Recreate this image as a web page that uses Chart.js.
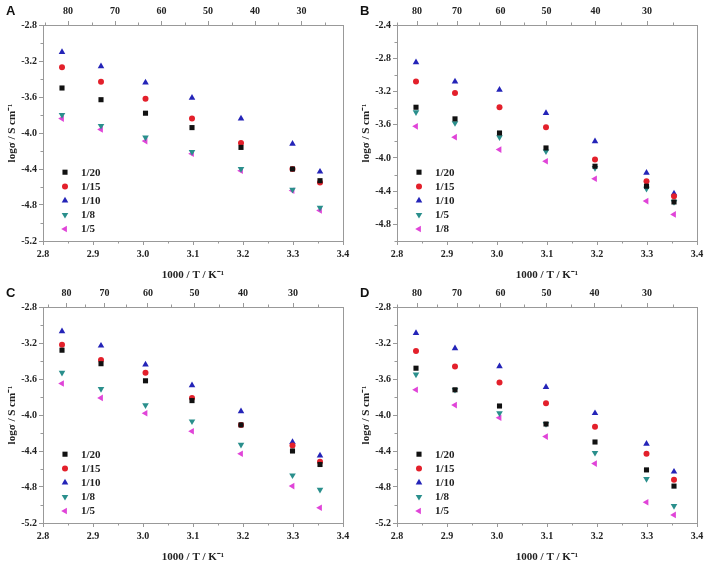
<!DOCTYPE html>
<html>
<head>
<meta charset="utf-8">
<script src="https://cdn.jsdelivr.net/npm/chart.js@4.4.1/dist/chart.umd.min.js"></script>
<style>
  html, body { margin: 0; padding: 0; background: #fff; }
  #wrap { position: relative; width: 708px; height: 564px; }
  .panel { position: absolute; width: 354px; height: 282px; }
  .panel canvas { position: absolute; left: 0; top: 0; }
  .tag { position: absolute; left: 6px; top: 3px; font: bold 13px 'Liberation Sans', Arial, sans-serif; color: #111; }
</style>
</head>
<body>
<div id="wrap">
  <div class="panel" style="left:0;top:0"><canvas id="cA" width="354" height="282"></canvas><div class="tag">A</div></div>
  <div class="panel" style="left:354px;top:0"><canvas id="cB" width="354" height="282"></canvas><div class="tag">B</div></div>
  <div class="panel" style="left:0;top:282px"><canvas id="cC" width="354" height="282"></canvas><div class="tag">C</div></div>
  <div class="panel" style="left:354px;top:282px"><canvas id="cD" width="354" height="282"></canvas><div class="tag">D</div></div>
</div>
<script>
// ── Data ──
const invT = [2.838, 2.916, 3.005, 3.098, 3.196, 3.299, 3.354];
const xTicks = [2.8, 2.9, 3.0, 3.1, 3.2, 3.3, 3.4];
const tempLabels = [80, 70, 60, 50, 40, 30];

const topPosA = [2.85, 2.944, 3.037, 3.13, 3.224, 3.317];
const topPosB = [2.84, 2.92, 3.007, 3.099, 3.197, 3.3];
const topPosC = [2.847, 2.923, 3.01, 3.103, 3.2, 3.3];
const topPosD = [2.84, 2.92, 3.007, 3.099, 3.195, 3.3];

const yTicksLow = [-5.2, -4.8, -4.4, -4.0, -3.6, -3.2, -2.8];
const yTicksHigh = [-4.8, -4.4, -4.0, -3.6, -3.2, -2.8, -2.4];

const legendStd = ['1/20', '1/15', '1/10', '1/8', '1/5'];
const legendB = ['1/20', '1/15', '1/10', '1/5', '1/8'];

// panel A
const a20 = [-3.50, -3.63, -3.78, -3.94, -4.16, -4.40, -4.53];
const a15 = [-3.27, -3.43, -3.62, -3.84, -4.11, -4.40, -4.55];
const a10 = [-3.10, -3.26, -3.44, -3.61, -3.84, -4.12, -4.43];
const a8  = [-3.80, -3.92, -4.05, -4.21, -4.40, -4.63, -4.83];
const a5  = [-3.84, -3.96, -4.09, -4.23, -4.42, -4.64, -4.86];
// panel B
const b20 = [-3.39, -3.53, -3.70, -3.88, -4.10, -4.34, -4.53];
const b15 = [-3.08, -3.22, -3.39, -3.63, -4.02, -4.28, -4.46];
const b10 = [-2.85, -3.08, -3.18, -3.46, -3.80, -4.18, -4.43];
const b5  = [-3.45, -3.58, -3.75, -3.92, -4.12, -4.37, -4.53];
const b8  = [-3.62, -3.75, -3.90, -4.04, -4.25, -4.52, -4.68];
// panel C
const c20 = [-3.28, -3.43, -3.62, -3.84, -4.11, -4.40, -4.55];
const c15 = [-3.22, -3.39, -3.53, -3.81, -4.11, -4.34, -4.52];
const c10 = [-3.07, -3.23, -3.44, -3.67, -3.96, -4.30, -4.45];
const c8  = [-3.53, -3.71, -3.89, -4.07, -4.33, -4.67, -4.83];
const c5  = [-3.65, -3.81, -3.98, -4.18, -4.43, -4.79, -5.03];
// panel D
const d20 = [-3.48, -3.72, -3.90, -4.10, -4.30, -4.61, -4.79];
const d15 = [-3.29, -3.46, -3.64, -3.87, -4.13, -4.43, -4.72];
const d10 = [-3.09, -3.26, -3.46, -3.69, -3.98, -4.32, -4.63];
const d8  = [-3.55, -3.72, -3.98, -4.10, -4.42, -4.71, -5.01];
const d5  = [-3.72, -3.89, -4.03, -4.24, -4.54, -4.97, -5.11];

// ── Styles ──
const AXIS = '#999';
const TEXT = '#222';
const SERIF = "'Liberation Serif', 'Times New Roman', serif";
const MARKERS = [
  { style: 'rect',     color: '#111',    radius: 3.6, rot: 0 },
  { style: 'circle',   color: '#e3202b', radius: 3,   rot: 0 },
  { style: 'triangle', color: '#2424b8', radius: 3.8, rot: 0 },
  { style: 'triangle', color: '#2a8f8c', radius: 3.8, rot: 180 },
  { style: 'triangle', color: '#e044d8', radius: 3.8, rot: 270 },
];

// ── Plugins ──
const frameTicks = {
  id: 'frameTicks',
  afterDraw(chart) {
    const { ctx, chartArea: a } = chart;
    ctx.save();
    ctx.strokeStyle = AXIS;
    ctx.lineWidth = 1;
    ctx.strokeRect(a.left + 0.5, a.top + 0.5, a.right - a.left, a.bottom - a.top);
    // minor ticks at midpoints
    ['x', 'x2', 'y'].forEach(id => {
      const s = chart.scales[id];
      const vals = s.ticks.map(t => t.value);
      const mins = [];
      for (let i = 0; i < vals.length - 1; i++) mins.push((vals[i] + vals[i + 1]) / 2);
      if (vals.length > 1) {
        mins.push(vals[0] - (vals[1] - vals[0]) / 2);
        const n = vals.length;
        mins.push(vals[n - 1] + (vals[n - 1] - vals[n - 2]) / 2);
      }
      ctx.beginPath();
      mins.forEach(v => {
        if (v < s.min - 1e-6 || v > s.max + 1e-6) return;
        const p = Math.round(s.getPixelForValue(v)) + 0.5;
        if (id === 'x') { ctx.moveTo(p, a.bottom); ctx.lineTo(p, a.bottom + 2.5); }
        else if (id === 'x2') { ctx.moveTo(p, a.top); ctx.lineTo(p, a.top - 2.5); }
        else { ctx.moveTo(a.left, p); ctx.lineTo(a.left - 2.5, p); }
      });
      ctx.stroke();
    });
    ctx.restore();
  }
};

const insideLegend = {
  id: 'insideLegend',
  afterDatasetsDraw(chart) {
    const { ctx, chartArea: a } = chart;
    const n = chart.data.datasets.length;
    ctx.save();
    ctx.font = `bold 11px ${SERIF}`;
    ctx.textBaseline = 'middle';
    ctx.textAlign = 'left';
    chart.data.datasets.forEach((ds, i) => {
      const y = a.bottom - 12 - (n - 1 - i) * 14.2;
      ctx.fillStyle = ds.pointBackgroundColor;
      Chart.helpers.drawPoint(ctx, {
        pointStyle: ds.pointStyle, rotation: ds.pointRotation,
        radius: ds.pointRadius, borderWidth: 0
      }, a.left + 22, y);
      ctx.fillStyle = TEXT;
      ctx.fillText(ds.label, a.left + 38, y + 0.5);
    });
    ctx.restore();
  }
};

// ── Build a panel ──
function makePanel(id, series, labels, topPos, yTicks, yMin, yMax) {
  const datasets = series.map((vals, i) => {
    const m = MARKERS[i];
    return {
      label: labels[i],
      data: vals.map((v, j) => ({ x: invT[j], y: v })),
      pointStyle: m.style,
      pointRotation: m.rot,
      pointRadius: m.radius,
      pointHoverRadius: m.radius,
      pointBackgroundColor: m.color,
      pointBorderWidth: 0,
      showLine: false,
    };
  });

  const tickFont = { family: SERIF, weight: 'bold', size: 10 };
  const titleFont = { family: SERIF, weight: 'bold', size: 11 };
  const grid = { drawOnChartArea: false, drawTicks: true, tickLength: 4, color: AXIS, tickColor: AXIS };

  new Chart(document.getElementById(id), {
    type: 'scatter',
    data: { datasets },
    options: {
      responsive: false,
      animation: false,
      events: [],
      layout: { padding: { left: 0, right: 11, top: 0, bottom: 0 } },
      plugins: { legend: { display: false }, tooltip: { enabled: false } },
      scales: {
        x: {
          type: 'linear', position: 'bottom', min: 2.8, max: 3.4,
          grid, border: { display: false },
          afterBuildTicks: s => { s.ticks = xTicks.map(v => ({ value: v })); },
          afterFit: s => { s.height = 41; },
          ticks: { color: TEXT, font: tickFont, padding: 3, autoSkip: false, maxRotation: 0,
                   callback: v => v.toFixed(1) },
          title: { display: true, text: '1000 / T / K\u207B\u00B9', color: TEXT, font: titleFont,
                   padding: { top: 4, bottom: 0 } },
        },
        x2: {
          type: 'linear', position: 'top', min: 2.8, max: 3.4,
          grid, border: { display: false },
          afterBuildTicks: s => { s.ticks = topPos.map(v => ({ value: v })); },
          afterFit: s => { s.height = 25; },
          ticks: { color: TEXT, font: tickFont, padding: 4, autoSkip: false, maxRotation: 0,
                   callback: (v, i) => tempLabels[i] },
        },
        y: {
          type: 'linear', position: 'left', min: yMin, max: yMax,
          grid, border: { display: false },
          afterBuildTicks: s => { s.ticks = yTicks.map(v => ({ value: v })); },
          afterFit: s => { s.width = 43; },
          ticks: { color: TEXT, font: tickFont, padding: 2, callback: v => v.toFixed(1) },
          title: { display: true, text: 'log\u03C3 / S cm\u207B\u00B9', color: TEXT, font: titleFont,
                   padding: { top: 6, bottom: 0 } },
        },
      },
    },
    plugins: [frameTicks, insideLegend],
  });
}

makePanel('cA', [a20, a15, a10, a8, a5], legendStd, topPosA, yTicksLow, -5.2, -2.8);
makePanel('cB', [b20, b15, b10, b5, b8], legendB, topPosB, yTicksHigh, -5.0, -2.4);
makePanel('cC', [c20, c15, c10, c8, c5], legendStd, topPosC, yTicksLow, -5.2, -2.8);
makePanel('cD', [d20, d15, d10, d8, d5], legendStd, topPosD, yTicksLow, -5.2, -2.8);
</script>
</body>
</html>
